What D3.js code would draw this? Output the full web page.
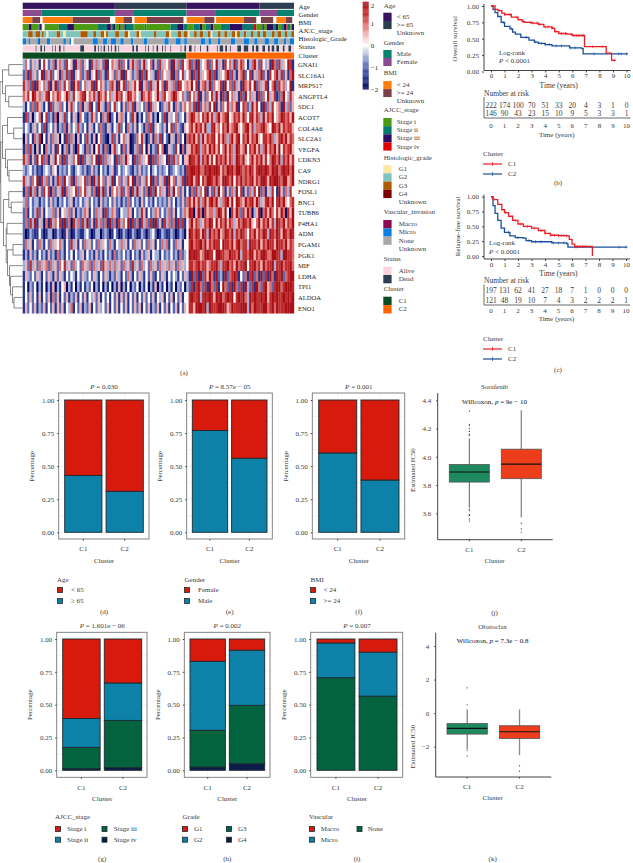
<!DOCTYPE html>
<html>
<head>
<meta charset="utf-8">
<script src="https://cdn.jsdelivr.net/npm/d3@7"></script>
<style>
    html, body { margin: 0; padding: 0; background: #fff; }
    svg { display: block; }
    text { font-family: "Liberation Serif", serif; fill: #3a3a3a; font-size: 7px; }
    .domain, .tick line { stroke: #444; }
    .heatmap { filter: blur(0.35px); }
</style>
</head>
<body>
<div id="chart"></div>
<script>
// ---- heatmap data: coarse estimate by eye at about 2px per column; each row is "C1 part|C2 part", digit 0..8 means -2..2
const geneNames = ["GNAI1","SLC16A1","MRPS17","ANGPTL4","SDC1","ACOT7","COL4A6","SLC2A1","VEGFA","CDKN3","CA9","NDRG1","FOSL1","BNC1","TUBB6","P4HA1","ADM","PGAM1","PGK1","MIF","LDHA","TPI1","ALDOA","ENO1"];
const geneRows = [
    "364253514742361563274518362541736352814653726415736258346152735461836274|572618345726483517463825764136852743518627354871",
    "261735248163724516372815462371548263174526381745236172845317264538162473|461728354682713546827315682471536825174683725168",
    "736271854637158263746185724635718465236751847263574815627358461753628745|658471567382645718462735186574826357146827563481",
    "657487563578465764586374567846573865746358674587564386576458367456875463|274638152647385172846351728463517264835712684375",
    "314262753141725362415734261537142853162473415263715342617354125374163256|463718256374815264736581476238574182637456183625",
    "172503461472316053724153064213752416370241563142750314265130427153462341|568756476857368567845767586478576385768456876758",
    "243135242713425132615243732415314262153143724163251431627154325147263215|467586758337856476856785467857366786548768576775",
    "052416370415263504172630514273150462103725146350126473025163714205316240|676857385767847586368578476857685477686357868576",
    "162730514063251740361520743162504731620573416250136274051327460153274061|557687367586857468576387568476857368576858476785",
    "736152847261538461725364817253648172635417263854172635481726354182736415|587768376857486768576387685468576857468768376857",
    "323423121343254132324213432312523142313512423432132523241342323412343231|778878668787887576878688767687578878768786787868",
    "735264817362513762843716354726183746253814625374816253748162537184625371|878578476887686588768476867678576887587887688568",
    "162836152747162538163547264735261838251646372561738352617284635173846251|416273648152738461526384715263748261537418526374",
    "362423313242523132423513242352423152324252313262423152423142323252413252|675857368578685367858487658678586357868478685467",
    "261423725143362514536251323651426351723652143365142375142365242362514236|587058607566368758407586275860358067586475860758",
    "262738153061736471826073627382517362618261736481726173627182517362618271|468576357687485768576357687685468576857387685768",
    "201321142013301320152013211342013302320142013201320132023420132113201320|487687587386768568768376876476857687387687587687",
    "263514263142635463142735142635242635426314363514263524263514263614263514|478677868576877487768578677387768576877587768576",
    "131523142315231623142414235142315231423162324231423152351433142324231623|487887568877488776687768377688576887668877388776",
    "352735263562635264735263426536263527536363526352735263426352635363526353|477678677567786377867586778477867586778377867786",
    "153242531425315253142431425324253142531325314263142531425214253142431425|318271827586182318267871426178261827186187826788",
    "140324031403150314503140314132403140314031503140324031403150314031403240|327178627186271486271862718327186278562788678887",
    "142524151425162514251325142514352514241425152514251425242514351425142514|478778378787587867878478786387877878578787787878",
    "152425132514251525143614251325142534251425142514252514251325142514251425|477588878387778887568777888386877788678687778888"
];

// 树状图: [合并高度, 左, 右]
const geneTree = [0.0,
    [0.1, [0.35, "GNAI1", "SLC16A1"], [0.22, "MRPS17", [0.35, "ANGPTL4", "SDC1"]]],
    [0.03,
        [0.1, [0.3, "ACOT7", [0.55, "COL4A6", "SLC2A1"]], [0.22, "VEGFA", [0.3, "CDKN3", [0.36, "CA9", "NDRG1"]]]],
        [0.14, [0.35, "FOSL1", [0.45, "BNC1", "TUBB6"]],
            [0.25, [0.28, "P4HA1", "ADM"],
                [0.3, [0.52, "PGAM1", "PGK1"],
                    [0.38, "MIF", [0.42, "LDHA", [0.5, "TPI1", [0.56, "ALDOA", "ENO1"]]]]]]]]
];

// ---- annotation tracks, sample counts per run
const trackAge = [["<65",125],[">=65",97],["<65",99],[">=65",47]];
const trackGender = [["Female",26],["Male",99],["Female",26],["Male",71],["Female",39],["Male",60],["Female",24],["Male",23]];
const trackBmi = [["<24",13],[">=24",11],["",3],["<24",41],[">=24",51],["",7],["<24",11],[">=24",12],["",3],["<24",17],[">=24",50],["",4],["<24",24],[">=24",14],["",2],["<24",38],[">=24",17],["",6],[">=24",17],["",4],["<24",13],[">=24",9],["",2]];
const trackStage = [["i",8],["iii",4],["i",9],["ii",2],["iii",2],["iv",1],["",3],["i",19],["ii",11],["iii",9],["i",32],["ii",12],["iii",5],["iv",1],["ii",2],["iii",3],["i",5],["iii",2],["i",5],["iii",2],["ii",10],["iv",1],["i",14],["ii",2],["i",32],["ii",9],["iii",8],["ii",5],["i",9],["ii",8],["iii",3],["i",5],["ii",6],["iii",4],["i",10],["ii",12],["iii",17],["ii",15],["iv",3],["i",8],["iii",2],["i",4],["iii",9],["ii",3],["iii",3],["i",4],["ii",3],["iii",4],["iv",1],["ii",4],["i",2],["iii",3]];
const trackGrade = [["G2",6],["G3",5],["G2",3],["G3",5],["G2",2],["G3",2],["G2",3],["G1",2],["G2",9],["G3",4],["G2",3],["G1",3],["G2",16],["G3",8],["G2",6],["G3",3],["G2",5],["G3",4],["G1",2],["G3",2],["G2",8],["G3",4],["G2",6],["G3",4],["G1",2],["G2",7],["G3",3],["G1",2],["G2",14],["G3",3],["G2",10],["G3",4],["G1",2],["G2",7],["G3",4],["G2",3],["G3",4],["G1",2],["G2",5],["G3",3],["G2",3],["G3",4],["G2",5],["G3",3],["G1",2],["G2",6],["G3",3],["G2",4],["G3",3],["G2",5],["G3",4],["G1",2],["G3",3],["G2",4],["G3",3],["G2",5],["G3",3],["G2",4],["G3",3],["G2",3],["G3",4],["G2",6],["G3",3],["G2",3],["G3",4],["G2",4],["G3",3],["G2",4],["G3",3]];
const trackVascular = [["Micro",4],["None",3],["Micro",2],["None",8],["Micro",2],["Macro",1],["None",8],["Micro",4],["None",15],["Micro",3],["None",4],["Micro",2],["",3],["None",22],["Micro",6],["None",6],["Micro",5],["None",4],["Micro",6],["None",5],["Micro",4],["None",8],["Micro",3],["None",12],["Micro",4],["None",20],["Micro",5],["None",8],["Micro",6],["None",4],["Micro",3],["None",16],["Micro",5],["None",4],["Micro",3],["None",8],["Micro",3],["None",12],["Micro",5],["None",10],["Micro",6],["None",6],["Micro",4],["None",8],["Micro",5],["None",6],["Micro",5],["None",6],["Micro",3],["None",4],["Micro",5]];
const trackStatus = [["Alive",14],["Dead",1],["Alive",4],["Dead",2],["Alive",2],["Dead",1],["Alive",8],["Dead",1],["Alive",2],["Dead",1],["Alive",3],["Dead",2],["Alive",3],["Dead",1],["Alive",17],["Dead",4],["Alive",11],["Dead",2],["Alive",2],["Dead",1],["Alive",2],["Dead",1],["Alive",2],["Dead",2],["Alive",3],["Dead",1],["Alive",2],["Dead",1],["Alive",3],["Dead",2],["Alive",2],["Dead",1],["Alive",14],["Dead",2],["Alive",2],["Dead",2],["Alive",8],["Dead",1],["Alive",2],["Dead",1],["Alive",4],["Dead",1],["Alive",3],["Dead",2],["Alive",4],["Dead",1],["Alive",2],["Dead",1],["Alive",5],["Dead",1],["Alive",10],["Dead",1],["Alive",3],["Dead",2],["Alive",3],["Dead",3],["Alive",3],["Dead",1],["Alive",5],["Dead",1],["Alive",6],["Dead",2],["Alive",9],["Dead",1],["Alive",2],["Dead",4],["Alive",2],["Dead",2],["Alive",3],["Dead",1],["Alive",7],["Dead",4],["Alive",3],["Dead",5],["Alive",4],["Dead",2],["Alive",2],["Dead",3],["Alive",4],["Dead",3],["Alive",3],["Dead",2],["Alive",2],["Dead",3],["Alive",2],["Dead",3],["Alive",4],["Dead",2],["Alive",4],["Dead",3],["Alive",3]];
const trackCluster = [["C1",222],["C2",146]];

// ---- survival curves, [time, survival]
const osC1 = [[0,1],[.3,.95],[.5,.93],[.8,.89],[1,.87],[1.5,.83],[2,.79],[2.3,.76],[2.5,.75],[3,.74],[3.5,.72],[3.9,.68],[4.5,.66],[4.7,.61],[5,.58],[5.6,.57],[6,.55],[6.9,.38],[8.5,.28],[8.9,.17],[9.2,.17]];
const osC2 = [[0,1],[.15,.95],[.3,.9],[.5,.84],[.75,.75],[1,.69],[1.4,.65],[1.6,.6],[1.8,.57],[2.2,.52],[2.8,.48],[3.2,.45],[3.5,.43],[4,.41],[4.5,.39],[5.6,.39],[5.8,.36],[6.7,.35],[6.8,.27],[10.1,.27]];
const osC1Censor = [.6,1,1.4,1.9,2.4,2.9,3.1,3.4,3.6,4,4.2,4.5,4.8,5.2,5.5,5.9,6.1,6.3,6.5,6.7,6.8,7.5,8.2,9.1];
const osC2Censor = [.9,1.5,2.6,3.3,3.7,4,4.3,4.8,5.2,5.9,6.2,7.6,9.4,9.6,10];
const rfsC1 = [[0,1],[.1,.97],[.2,.95],[.5,.87],[.8,.78],[1,.73],[1.3,.67],[1.6,.6],[2,.54],[2.4,.5],[3,.47],[3.5,.43],[4,.38],[4.4,.35],[5,.345],[5.6,.34],[5.8,.28],[6,.2],[6.2,.16],[7.5,.155],[7.51,0]];
const rfsC2 = [[0,1],[.15,.85],[.3,.72],[.5,.6],[.75,.47],[1,.4],[1.4,.34],[1.8,.31],[2.4,.3],[2.6,.26],[3,.24],[4.5,.22],[5.6,.21],[5.7,.15],[10.1,.15]];
const rfsC1Censor = [1.1,1.8,2.2,2.7,3.2,3.7,4,4.4,4.7,5,5.2,5.4,5.6,6.4,6.6,6.8,7];
const rfsC2Censor = [1.3,2,2.8,3.3,3.7,4.6,5,5.4,6.3,9.5,10];
const timeTicks = [0,1,2,3,4,5,6,7,8,9,10];
const osRiskC1 = [222,174,100,70,51,33,20,4,3,1,0];
const osRiskC2 = [146,90,43,23,15,10,9,5,3,3,1];
const rfsRiskC1 = [197,131,62,41,27,18,7,1,0,0,0];
const rfsRiskC2 = [121,48,19,10,7,4,3,2,2,2,1];
const survTicks = [0,.25,.5,.75,1];

// ---- stacked bars, shares from the bottom segment upwards for C1 and C2
const clusters = ["C1","C2"];
const percentTicks = [0,.25,.5,.75,1];
const ageValues = [[.43,.57],[.31,.69]];
const genderValues = [[.77,.23],[.56,.44]];
const bmiValues = [[.60,.40],[.395,.605]];
const stageValues = [[.012,.163,.22,.605],[.02,.36,.285,.335]];
const gradeValues = [[.025,.28,.525,.17],[.05,.445,.42,.085]];
const vascularValues = [[.705,.265,.03],[.565,.335,.10]];

// ---- box plots: whisker low, q1, median, q3, whisker high
const sorafenibBox = [[3.64,3.821,3.892,3.946,4.13],[3.57,3.845,3.948,4.054,4.33]];
const sorafenibOut = [[4.325,4.23,4.22,4.2,4.18,4.16,4.15,3.63,3.62,3.59,3.585,3.56,3.545],[3.53,3.49,3.466]];
const sorafenibTicks = [3.6,3.8,4.0,4.2,4.4];
const obatoclaxBox = [[-2.14,-1.25,-.91,-.62,.22],[-2.5,-1.51,-1.11,-.75,.22]];
const obatoclaxOut = [[1.51,.5,-2.2,-2.56],[-3.14,-3.45]];
const obatoclaxTicks = [-2,0,2,4];

// 颜色
const RED = "#d71a0c", BLUE = "#0e81a8", GREEN = "#04633f", NAVY = "#0d1b48";
const annotColor = {
    "<65":"#35135f", ">=65":"#2c3e50", "Male":"#06836f", "Female":"#8e4a91",
    "i":"#4a9a12", "ii":"#067a6e", "iii":"#2c0d60", "iv":"#e20000",
    "G1":"#fde9a5", "G2":"#7cc4bc", "G3":"#b05a00", "G4":"#7a0000",
    "Macro":"#8b0a50", "Micro":"#0a7fe0", "None":"#a8a8a8",
    "Alive":"#fbd3df", "Dead":"#2c3e50", "C1":"#0b4a22", "C2":"#ff6600", "":"#fff"
};
const bmiColor = {"<24":"#ff7f0e", ">=24":"#7b4049", "":"#fff"};

const svg = d3.select("#chart").append("svg").attr("width", 633).attr("height", 863);

function label(g, x, y, str, opts = {}) {
    return g.append("text").attr("x", x).attr("y", y)
        .attr("dominant-baseline", "central")
        .attr("text-anchor", opts.anchor || "start")
        .style("font-size", (opts.size || 7) + "px")
        .style("fill", opts.fill || null)
        .text(str);
}

function rotated(g, x, y, str) {
    return g.append("text").attr("transform", `translate(${x},${y}) rotate(-90)`)
        .attr("text-anchor", "middle").attr("dominant-baseline", "central").text(str);
}

function italicP(g, x, y, pv) {
    const t = g.append("text").attr("x", x).attr("y", y).attr("text-anchor", "middle")
        .attr("dominant-baseline", "central");
    t.append("tspan").style("font-style", "italic").text("P");
    t.append("tspan").text(pv);
    return t;
}

// ---- 热图
const sampleX = d3.scaleLinear().domain([0, 368]).range([22.7, 294]);
const rowY = d3.scaleBand().domain(geneNames).range([59.3, 313.3]);
const heatColor = d3.scaleLinear()
    .domain([-2, -1.4, -0.8, 0, 0.8, 1.4, 2])
    .range(["#06065e", "#2c3a94", "#6f7fc0", "#ffffff", "#e58585", "#c43030", "#a50f15"]);

function drawHeatmap() {
    const g = svg.append("g").attr("class", "heatmap");
    geneRows.forEach((row, i) => {
        const [c1, c2] = row.split("|");
        [[c1, 0, 222], [c2, 222, 368]].forEach(([cells, from, to]) => {
            const cellX = d3.scaleLinear().domain([0, cells.length]).range([sampleX(from), sampleX(to)]);
            g.selectAll(null).data(cells.split("")).enter().append("rect")
                .attr("x", (d, j) => cellX(j))
                .attr("y", rowY(geneNames[i]))
                .attr("width", (d, j) => cellX(j + 1) - cellX(j) + 0.2)
                .attr("height", rowY.bandwidth() + 0.2)
                .attr("fill", d => heatColor((+d - 4) / 2));
        });
    });
    geneNames.forEach(n => label(svg, 298, rowY(n) + rowY.bandwidth() / 2, n, {size: 6.6, fill: "#1c1c1c"}));
}

function drawTracks() {
    const tracks = [
        [trackAge, annotColor], [trackGender, annotColor], [trackBmi, bmiColor], [trackStage, annotColor],
        [trackGrade, annotColor], [trackVascular, annotColor], [trackStatus, annotColor], [trackCluster, annotColor]
    ];
    const trackY = d3.scaleBand().domain(d3.range(tracks.length)).range([2.7, 58.7]).paddingInner(0.13);
    tracks.forEach(([runs, colors], i) => {
        // 按样本数累加得到每段的起点
        const starts = d3.cumsum(runs.map(r => r[1]));
        const total = starts[starts.length - 1];
        const x = d3.scaleLinear().domain([0, total]).range(sampleX.range());
        svg.append("g").attr("class", "heatmap").selectAll("rect").data(runs).enter().append("rect")
            .attr("x", (d, k) => x(starts[k] - d[1]))
            .attr("y", trackY(i))
            .attr("width", d => x(d[1]) - x(0))
            .attr("height", trackY.bandwidth())
            .attr("fill", d => colors[d[0]]);
    });
    const names = ["Age","Gender","BMI","AJCC_stage","Histologic_Grade","Status","Cluster"];
    const nameY = d3.scalePoint().domain(names).range([6.3, 55]);
    names.forEach(n => label(svg, 298.5, nameY(n), n, {size: 6.8, fill: "#1c1c1c"}));
}

function drawDendrogram() {
    const root = d3.hierarchy(geneTree, d => Array.isArray(d) ? d.slice(1) : null);
    const depthX = d3.scaleLinear().domain([0, 0.6]).range([0, 15]);
    const g = svg.append("g").attr("fill", "none").attr("stroke", "#555").attr("stroke-width", 0.7);
    // 后序遍历，父节点y取子节点中点
    root.eachAfter(n => {
        if (n.children) {
            n.py = d3.mean(n.children, c => c.py);
            n.px = depthX(n.data[0]);
        } else {
            n.py = rowY(n.data) + rowY.bandwidth() / 2;
            n.px = 22.7;
        }
    });
    root.each(n => {
        if (!n.children) return;
        g.append("path").attr("d", d3.line()(n.children.map(c => [n.px, c.py])));
        n.children.forEach(c => g.append("path").attr("d", d3.line()([[n.px, c.py], [c.px, c.py]])));
    });
}

function drawColorbar() {
    const y = d3.scaleLinear().domain([-2, 2]).range([89.3, 1.7]);
    const g = svg.append("g");
    const steps = d3.range(-2, 2, 0.04);
    g.selectAll("rect").data(steps).enter().append("rect")
        .attr("x", 362.7).attr("width", 6)
        .attr("y", d => y(d + 0.04)).attr("height", d => y(d) - y(d + 0.04) + 0.2)
        .attr("fill", d => heatColor(d));
    const axis = g.append("g").attr("transform", "translate(368.7,0)")
        .call(d3.axisRight(y).tickValues([-2, -1, 0, 1, 2]).tickSize(0).tickPadding(2).tickFormat(d => d < 0 ? "\u2212" + (-d) : d));
    axis.select(".domain").remove();
    axis.selectAll("text").style("font-size", "7px").style("fill", "#1c1c1c");
    // 顶部的 2 下移，避免被页面边缘裁切
    axis.selectAll(".tick").filter(d => d === 2).select("text").attr("dy", "0.85em");
}

function drawAnnotLegend() {
    const blocks = [
        ["Age", 6.3, 12.7, 8.3, 396.7, [["< 65","<65"],[">= 65",">=65"],["Unknown",""]], annotColor],
        ["Gender", 43, 50, 8, 396.7, [["Male","Male"],["Female","Female"]], annotColor],
        ["BMI", 73.3, 81, 8.1, 396.7, [["< 24","<24"],[">= 24",">=24"],["Unknown",""]], bmiColor],
        ["AJCC_stage", 110.3, 118, 8.15, 396.7, [["Stage i","i"],["Stage ii","ii"],["Stage iii","iii"],["Stage iv","iv"]], annotColor],
        ["Histologic_grade", 157.7, 165, 8.3, 398.7, [["G1","G1"],["G2","G2"],["G3","G3"],["G4","G4"],["Unknown",""]], annotColor],
        ["Vascular_invasion", 212, 220, 8.3, 398.7, [["Macro","Macro"],["Micro","Micro"],["None","None"],["Unknown",""]], annotColor],
        ["Status", 258.7, 266.7, 8.3, 398.7, [["Alive","Alive"],["Dead","Dead"]], annotColor],
        ["Cluster", 288.7, 296.7, 8.4, 398.7, [["C1","C1"],["C2","C2"]], annotColor]
    ];
    blocks.forEach(([title, ty, y0, step, lx, items, colors]) => {
        label(svg, 383.7, ty, title);
        items.forEach(([text, key], i) => {
            svg.append("rect").attr("x", 383.3).attr("y", y0 + i * step)
                .attr("width", 8.3).attr("height", step).attr("fill", colors[key]);
            label(svg, lx, y0 + (i + 0.5) * step, text);
        });
    });
}

// ---- 生存曲线
function drawSurvival(cfg) {
    const g = svg.append("g");
    const x = d3.scaleLinear().domain([0, 10]).range(cfg.xRange);
    const y = d3.scaleLinear().domain([0, 1]).range(cfg.yRange);
    const line = d3.line().x(d => x(d[0])).y(d => y(d[1])).curve(d3.curveStepAfter);
    const survAt = (curve, t) => curve[Math.max(0, d3.bisector(d => d[0]).right(curve, t) - 1)][1];

    const left = g.append("g").attr("transform", `translate(${cfg.axisX},0)`)
        .call(d3.axisLeft(y).tickValues(survTicks).tickSize(2).tickPadding(3).tickFormat(d3.format(".2f")));
    left.select(".domain").attr("d", d3.line()([[0, cfg.yRange[1] - 2], [0, cfg.axisY]]));
    const bottom = g.append("g").attr("transform", `translate(0,${cfg.axisY})`)
        .call(d3.axisBottom(x).tickValues(timeTicks).tickSize(2).tickPadding(1));
    bottom.select(".domain").attr("d", d3.line()([[cfg.axisX, 0], [x(10) + 4, 0]]));
    g.selectAll(".tick text").style("font-size", "7px");
    rotated(g, cfg.yLabelX, (cfg.yRange[0] + cfg.yRange[1]) / 2, cfg.yLabel);

    [[cfg.c2, cfg.c2Censor, "#1a4f9c"], [cfg.c1, cfg.c1Censor, "#ee1c25"]].forEach(([curve, cens, color]) => {
        g.append("path").attr("d", line(curve)).attr("fill", "none").attr("stroke", color).attr("stroke-width", 1.3);
        g.selectAll(null).data(cens).enter().append("line")
            .attr("x1", d => x(d)).attr("x2", d => x(d))
            .attr("y1", d => y(survAt(curve, d)) - 1.5).attr("y2", d => y(survAt(curve, d)) + 1.5)
            .attr("stroke", color).attr("stroke-width", 0.6);
    });

    label(g, cfg.logX, cfg.logY, "Log-rank");
    const p = label(g, cfg.logX, cfg.logY + 8.5, "");
    p.append("tspan").style("font-style", "italic").text("P");
    p.append("tspan").text(" < 0.0001");
    label(g, x(5), cfg.timeY, "Time (years)", {anchor: "middle", size: 7.5});

    // 风险表
    label(g, cfg.axisX, cfg.riskTitleY, "Number at risk", {size: 7.5});
    [[cfg.risk1, cfg.riskY1], [cfg.risk2, cfg.riskY2]].forEach(([vals, ry]) => {
        vals.forEach((v, i) => label(g, x(timeTicks[i]), ry, v, {anchor: "middle", size: 7.5}));
    });
    g.append("path").attr("fill", "none").attr("stroke", "#444").attr("stroke-width", 0.8)
        .attr("d", d3.line()([[cfg.axisX, cfg.riskTitleY + 4], [cfg.axisX, cfg.riskBottom], [x(10) + 4, cfg.riskBottom]]));
    timeTicks.forEach(t => label(g, x(t), cfg.riskTickY, t, {anchor: "middle"}));
    label(g, x(5) - 2, cfg.riskTimeY, "Time (years)", {anchor: "middle"});

    // 图例
    label(g, cfg.axisX - 1, cfg.legendY, "Cluster");
    [["C1", "#ee1c25", 10], ["C2", "#1a4f9c", 20]].forEach(([n, color, dy]) => {
        g.append("line").attr("x1", cfg.axisX - 1).attr("x2", cfg.axisX + 18)
            .attr("y1", cfg.legendY + dy).attr("y2", cfg.legendY + dy).attr("stroke", color).attr("stroke-width", 1.2);
        g.append("line").attr("x1", cfg.axisX + 8.5).attr("x2", cfg.axisX + 8.5)
            .attr("y1", cfg.legendY + dy - 2).attr("y2", cfg.legendY + dy + 2).attr("stroke", color).attr("stroke-width", 0.7);
        label(g, cfg.axisX + 24, cfg.legendY + dy, n);
    });
    label(g, cfg.tagX, cfg.tagY, cfg.tag, {anchor: "middle"});
}

// ---- 堆叠柱状图
function drawStackedBar(cfg) {
    const g = svg.append("g");
    const x = d3.scaleBand().domain(clusters).range(cfg.barRange).paddingInner(0.1);
    const y = d3.scaleLinear().domain([0, 1]).range(cfg.yRange);
    const stack = d3.stack().keys(d3.range(cfg.colors.length));
    const layers = stack(cfg.values);

    // 网格线
    d3.range(0, 1.01, 0.125).forEach(v => g.append("line").attr("x1", cfg.frame[0]).attr("x2", cfg.frame[1])
        .attr("y1", y(v)).attr("y2", y(v)).attr("stroke", "#e6e6e6").attr("stroke-width", 0.5));
    clusters.forEach(c => g.append("line").attr("x1", x(c) + x.bandwidth() / 2).attr("x2", x(c) + x.bandwidth() / 2)
        .attr("y1", cfg.top).attr("y2", cfg.bottom).attr("stroke", "#e6e6e6").attr("stroke-width", 0.5));

    layers.forEach((layer, k) => {
        g.selectAll(null).data(layer).enter().append("rect")
            .attr("x", (d, i) => x(clusters[i]))
            .attr("width", x.bandwidth())
            .attr("y", d => y(d[1]))
            .attr("height", d => y(d[0]) - y(d[1]))
            .attr("fill", cfg.colors[k])
            .attr("stroke", "#1c2a30").attr("stroke-width", 0.9);
    });
    g.append("rect").attr("x", cfg.frame[0]).attr("y", cfg.top).attr("width", cfg.frame[1] - cfg.frame[0])
        .attr("height", cfg.bottom - cfg.top).attr("fill", "none").attr("stroke", "#777").attr("stroke-width", 0.9);

    const left = g.append("g").attr("transform", `translate(${cfg.frame[0]},0)`)
        .call(d3.axisLeft(y).tickValues(percentTicks).tickSize(1.5).tickPadding(3).tickFormat(d3.format(".2f")));
    left.select(".domain").remove();
    const bottom = g.append("g").attr("transform", `translate(0,${cfg.bottom})`)
        .call(d3.axisBottom(x).tickSize(1.5).tickPadding(6));
    bottom.select(".domain").remove();
    g.selectAll(".tick text").style("font-size", "7px");

    const mid = (cfg.barRange[0] + cfg.barRange[1]) / 2;
    italicP(g, mid, cfg.top - 6, cfg.p);
    rotated(g, cfg.frame[0] - 26.5, (cfg.yRange[0] + cfg.yRange[1]) / 2, "Percentage");
    label(g, mid, cfg.bottom + 21.5, "Cluster", {anchor: "middle"});

    // 图例
    label(g, cfg.legendX, cfg.legendY, cfg.legendTitle);
    cfg.legend.forEach(([text, color, cx, rowDy, lx]) => {
        g.append("rect").attr("x", cx).attr("y", cfg.legendY + rowDy - 2.5).attr("width", 5).attr("height", 5)
            .attr("fill", color).attr("stroke", "#1c2a30").attr("stroke-width", 0.8);
        label(g, lx, cfg.legendY + rowDy, text);
    });
    label(g, mid, cfg.tagY, cfg.tag, {anchor: "middle"});
}

// ---- 箱线图
function drawBox(cfg) {
    const g = svg.append("g");
    const x = d3.scaleBand().domain(clusters).range(cfg.boxRange).paddingInner(0.23);
    const y = d3.scaleLinear().domain(cfg.yDomain).range(cfg.yRange);
    const colors = ["#1f8a5f", "#ed3e1b"];
    const whisker = ["#333", "#8a8a8a"];

    const left = g.append("g").attr("transform", `translate(${cfg.axisX},0)`)
        .call(d3.axisLeft(y).tickValues(cfg.ticks).tickSize(1.5).tickPadding(5)
            .tickFormat(d => cfg.fmt(d).replace("-", "\u2212")));
    left.select(".domain").attr("d", d3.line()([[0, cfg.top], [0, cfg.bottom]])).attr("stroke-width", 1);
    const bottom = g.append("g").attr("transform", `translate(0,${cfg.bottom})`)
        .call(d3.axisBottom(x).tickSize(1.5).tickPadding(6));
    bottom.select(".domain").attr("d", d3.line()([[cfg.axisX, 0], [cfg.axisRight, 0]])).attr("stroke-width", 1);
    g.selectAll(".tick text").style("font-size", "7px");

    clusters.forEach((c, i) => {
        const [lo, q1, med, q3, hi] = cfg.box[i];
        const cx = x(c) + x.bandwidth() / 2;
        g.append("line").attr("x1", cx).attr("x2", cx).attr("y1", y(lo)).attr("y2", y(hi))
            .attr("stroke", whisker[i]).attr("stroke-width", i === 0 ? 0.8 : 1.3);
        g.append("rect").attr("x", x(c)).attr("width", x.bandwidth())
            .attr("y", y(q3)).attr("height", y(q1) - y(q3))
            .attr("fill", colors[i]).attr("stroke", "#555").attr("stroke-width", 0.8);
        g.append("line").attr("x1", x(c)).attr("x2", x(c) + x.bandwidth()).attr("y1", y(med)).attr("y2", y(med))
            .attr("stroke", "#111").attr("stroke-width", 1.1);
        g.selectAll(null).data(cfg.out[i]).enter().append("circle")
            .attr("cx", cx).attr("cy", d => y(d)).attr("r", 0.6).attr("fill", "#222");
    });

    label(g, cfg.titleX, cfg.top - 6, cfg.title, {anchor: "middle"});
    const w = label(g, cfg.titleX, cfg.statY, "", {anchor: "middle", fill: "#111"});
    w.append("tspan").text("Willcoxon, ");
    w.append("tspan").style("font-style", "italic").text("p");
    w.append("tspan").text(cfg.stat);
    label(g, cfg.titleX, cfg.bottom + 21, "Cluster", {anchor: "middle"});
    rotated(g, 412.7, cfg.midY, "Estimated IC50");
    label(g, cfg.titleX, cfg.tagY, cfg.tag, {anchor: "middle"});
}

drawTracks();
drawHeatmap();
drawDendrogram();
drawColorbar();
drawAnnotLegend();
label(svg, 184, 372.5, "(a)", {anchor: "middle"});

drawSurvival({xRange: [491, 626.5], yRange: [71.5, 6], axisX: 484, axisY: 70.5, yLabel: "Overall survival", yLabelX: 455,
    c1: osC1, c2: osC2, c1Censor: osC1Censor, c2Censor: osC2Censor,
    logX: 499, logY: 52.5, timeY: 85, riskTitleY: 93, riskY1: 105, riskY2: 113.7, riskBottom: 118,
    riskTickY: 126, riskTimeY: 135, risk1: osRiskC1, risk2: osRiskC2, legendY: 154, tag: "(b)", tagX: 558, tagY: 183});
drawSurvival({xRange: [491, 626], yRange: [256, 196.7], axisX: 484, axisY: 259, yLabel: "Relapse-free survival", yLabelX: 458,
    c1: rfsC1, c2: rfsC2, c1Censor: rfsC1Censor, c2Censor: rfsC2Censor,
    logX: 489, logY: 243, timeY: 273, riskTitleY: 280.5, riskY1: 290, riskY2: 300, riskBottom: 305,
    riskTickY: 311, riskTimeY: 319, risk1: rfsRiskC1, risk2: rfsRiskC2, legendY: 339, tag: "(c)", tagX: 558, tagY: 370});

// 第一排
const row1 = {top: 393, bottom: 539, yRange: [532.3, 400], legendY: 579.7, tagY: 612};
drawStackedBar({...row1, frame: [58.7, 149], barRange: [64.7, 143.3], values: ageValues, colors: [BLUE, RED], p: " = 0.030",
    legendTitle: "Age", legendX: 57, tag: "(d)",
    legend: [["< 65", RED, 57.5, 10.3, 71], ["\u2265 65", BLUE, 57.5, 21.3, 71]]});
drawStackedBar({...row1, frame: [186.7, 272.3], barRange: [192.3, 267], values: genderValues, colors: [BLUE, RED], p: " = 8.57e \u2212 05",
    legendTitle: "Gender", legendX: 184.5, tag: "(e)",
    legend: [["Female", RED, 184.5, 10.3, 198], ["Male", BLUE, 184.5, 21.3, 198]]});
drawStackedBar({...row1, frame: [312.3, 404.7], barRange: [318.7, 399], values: bmiValues, colors: [BLUE, RED], p: " = 0.001",
    legendTitle: "BMI", legendX: 310.5, tag: "(f)",
    legend: [["< 24", RED, 310.5, 10.3, 323.5], [">= 24", BLUE, 310.5, 21.3, 323.5]]});

// 第二排
const row2 = {top: 632.3, bottom: 777.3, yRange: [770.3, 639], legendY: 816.7, tagY: 859};
drawStackedBar({...row2, frame: [56.7, 147], barRange: [62.7, 141.7], values: stageValues, colors: [NAVY, GREEN, BLUE, RED], p: " = 1.601e \u2212 06",
    legendTitle: "AJCC_stage", legendX: 55, tag: "(g)",
    legend: [["Stage i", RED, 55.5, 12.3, 67], ["Stage ii", BLUE, 55.5, 23, 67], ["Stage iii", GREEN, 102, 12.3, 113.7], ["Stage iv", NAVY, 102, 23, 113.7]]});
drawStackedBar({...row2, frame: [184.3, 270], barRange: [190, 264.7], values: gradeValues, colors: [NAVY, GREEN, BLUE, RED], p: " = 0.002",
    legendTitle: "Grade", legendX: 182.5, tag: "(h)",
    legend: [["G1", RED, 182.5, 12.3, 194], ["G2", BLUE, 182.5, 23, 194], ["G3", GREEN, 226.5, 12.3, 238], ["G4", NAVY, 226.5, 23, 238]]});
drawStackedBar({...row2, frame: [310.7, 402.7], barRange: [317, 397], values: vascularValues, colors: [GREEN, BLUE, RED], p: " = 0.007",
    legendTitle: "Vascular", legendX: 309, tag: "(i)",
    legend: [["Macro", RED, 309.5, 12.3, 320.7], ["Micro", BLUE, 309.5, 23, 320.7], ["None", GREEN, 357, 12.3, 367.7]]});

drawBox({boxRange: [449.3, 541.3], yDomain: [3.6, 4.4], yRange: [513.3, 400.3], axisX: 437.7, axisRight: 552.7, top: 393, bottom: 539.7,
    box: sorafenibBox, out: sorafenibOut, ticks: sorafenibTicks, fmt: d3.format(".1f"), title: "Sorafenib", titleX: 494.5, statY: 401.7,
    stat: " = 9e \u2212 10", midY: 470, tag: "(j)", tagY: 612.7});
drawBox({boxRange: [447, 539.7], yDomain: [-2, 4], yRange: [746.7, 646], axisX: 435.7, axisRight: 551.3, top: 632.7, bottom: 777,
    box: obatoclaxBox, out: obatoclaxOut, ticks: obatoclaxTicks, fmt: d3.format("d"), title: "Obatoclax", titleX: 492.7, statY: 641.3,
    stat: " = 7.3e \u2212 0.8", midY: 746.7, tag: "(k)", tagY: 858.7});
</script>
</body>
</html>
